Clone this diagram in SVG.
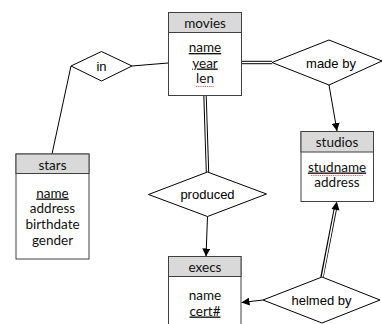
<svg xmlns="http://www.w3.org/2000/svg" width="382" height="324" viewBox="0 0 382 324">
  <style>
    .box { fill: #ffffff; stroke: #404040; stroke-width: 1; }
    .head { fill: #d9d9d9; stroke: #404040; stroke-width: 1; }
    .ent { font-family: Lato, "Liberation Sans", sans-serif; font-size: 13.5px; fill: #111; text-anchor: middle; }
    .rel { fill: #ffffff; stroke: #000; stroke-width: 1; }
    .rlab { font-family: "Liberation Sans", Arial, sans-serif; font-size: 13px; fill: #000; text-anchor: middle; }
    .line { fill: none; stroke: #000; stroke-width: 1; }
    .dbl-out { fill: none; stroke: #000; stroke-width: 3.4; }
    .dbl-in { fill: none; stroke: #fff; stroke-width: 1.4; }
    .squig { fill: none; stroke: #e03030; stroke-width: 0.8; stroke-dasharray: 1.2 1; }
  </style>
  <defs>
    <marker id="arrow" viewBox="0 0 10 10" refX="10" refY="5" markerWidth="8" markerHeight="8" markerUnits="userSpaceOnUse" orient="auto">
      <path d="M0,0 L10,5 L0,10 z" fill="#000"/>
    </marker>
    <marker id="arrowBig" viewBox="0 0 10 10" refX="10" refY="5" markerWidth="9" markerHeight="9" markerUnits="userSpaceOnUse" orient="auto">
      <path d="M0,0 L10,5 L0,10 z" fill="#000"/>
    </marker>
  </defs>

  <!-- connectors -->
  <g id="connectors">
    <!-- stars - in - movies -->
    <path class="line" d="M52,154 L71,66"/>
    <path class="line" d="M132,66 L168,63"/>
    <!-- movies = made by -> studios -->
    <path class="dbl-out" d="M242,62.5 L272,62.5"/>
    <path class="dbl-in" d="M241,62.5 L273,62.5"/>
    <path class="line" d="M329,85 L337,131" marker-end="url(#arrow)"/>
    <!-- movies = produced -> execs -->
    <path class="dbl-out" d="M205,95.5 L207.5,172"/>
    <path class="dbl-in" d="M205,94.5 L207.5,173"/>
    <path class="line" d="M207.5,216.5 L206,256.5" marker-end="url(#arrow)"/>
    <!-- execs <- helmed by => studios -->
    <path class="line" d="M263,300 L241.5,302.5" marker-end="url(#arrow)"/>
    <path class="dbl-out" d="M322,277 L335.3,209"/>
    <path class="dbl-in" d="M322.2,278 L335.5,208"/>
    <path d="M336.8,201.5 L339.5,210.5 L331.5,209 z" fill="#000"/>
  </g>

  <!-- entity: movies -->
  <g id="movies">
    <rect class="box" x="168.5" y="12.5" width="73" height="83"/>
    <rect class="head" x="168.5" y="12.5" width="73" height="20"/>
    <text class="ent" x="205" y="27.5">movies</text>
    <text class="ent" x="205" y="52" text-decoration="underline">name</text>
    <text class="ent" x="205" y="67.5" text-decoration="underline">year</text>
    <text class="ent" x="205" y="83">len</text>
    <path class="squig" d="M196,86.5 L214,86.5"/>
  </g>

  <!-- entity: stars -->
  <g id="stars">
    <rect class="box" x="16" y="154" width="73" height="105"/>
    <rect class="head" x="16" y="154" width="73" height="19.5"/>
    <text class="ent" x="52.5" y="169.5">stars</text>
    <text class="ent" x="52.5" y="197.5" text-decoration="underline">name</text>
    <text class="ent" x="52.5" y="213.3">address</text>
    <text class="ent" x="52.5" y="229">birthdate</text>
    <text class="ent" x="52.5" y="244.5">gender</text>
  </g>

  <!-- entity: studios -->
  <g id="studios">
    <rect class="box" x="301" y="131.5" width="72.5" height="70"/>
    <rect class="head" x="301" y="131.5" width="72.5" height="20.5"/>
    <text class="ent" x="337" y="147">studios</text>
    <text class="ent" x="337" y="171.5" text-decoration="underline">studname</text>
    <path class="squig" d="M311,175.5 L363,175.5"/>
    <text class="ent" x="337" y="187">address</text>
  </g>

  <!-- entity: execs -->
  <g id="execs">
    <rect class="box" x="168.5" y="256.5" width="72.5" height="80"/>
    <rect class="head" x="168.5" y="256.5" width="72.5" height="20"/>
    <text class="ent" x="205" y="272">execs</text>
    <text class="ent" x="205" y="300">name</text>
    <text class="ent" x="205" y="315.5" text-decoration="underline">cert#</text>
  </g>

  <!-- relationship: in -->
  <g id="in">
    <polygon class="rel" points="71,66 101.5,51.5 132,66 101.5,81"/>
    <text class="rlab" x="101.5" y="71">in</text>
  </g>

  <!-- relationship: made by -->
  <g id="made_by">
    <polygon class="rel" points="272,62.5 329,40 382,61 329,85"/>
    <text class="rlab" x="331" y="67.5">made by</text>
  </g>

  <!-- relationship: produced -->
  <g id="produced">
    <polygon class="rel" points="148.5,194.5 207.5,172 266.5,194 207.5,216.5"/>
    <text class="rlab" x="207.5" y="198.5">produced</text>
  </g>

  <!-- relationship: helmed by -->
  <g id="helmed_by">
    <polygon class="rel" points="263,300 322,277 380,300 322,323"/>
    <text class="rlab" x="321.5" y="304.5">helmed by</text>
  </g>
</svg>
